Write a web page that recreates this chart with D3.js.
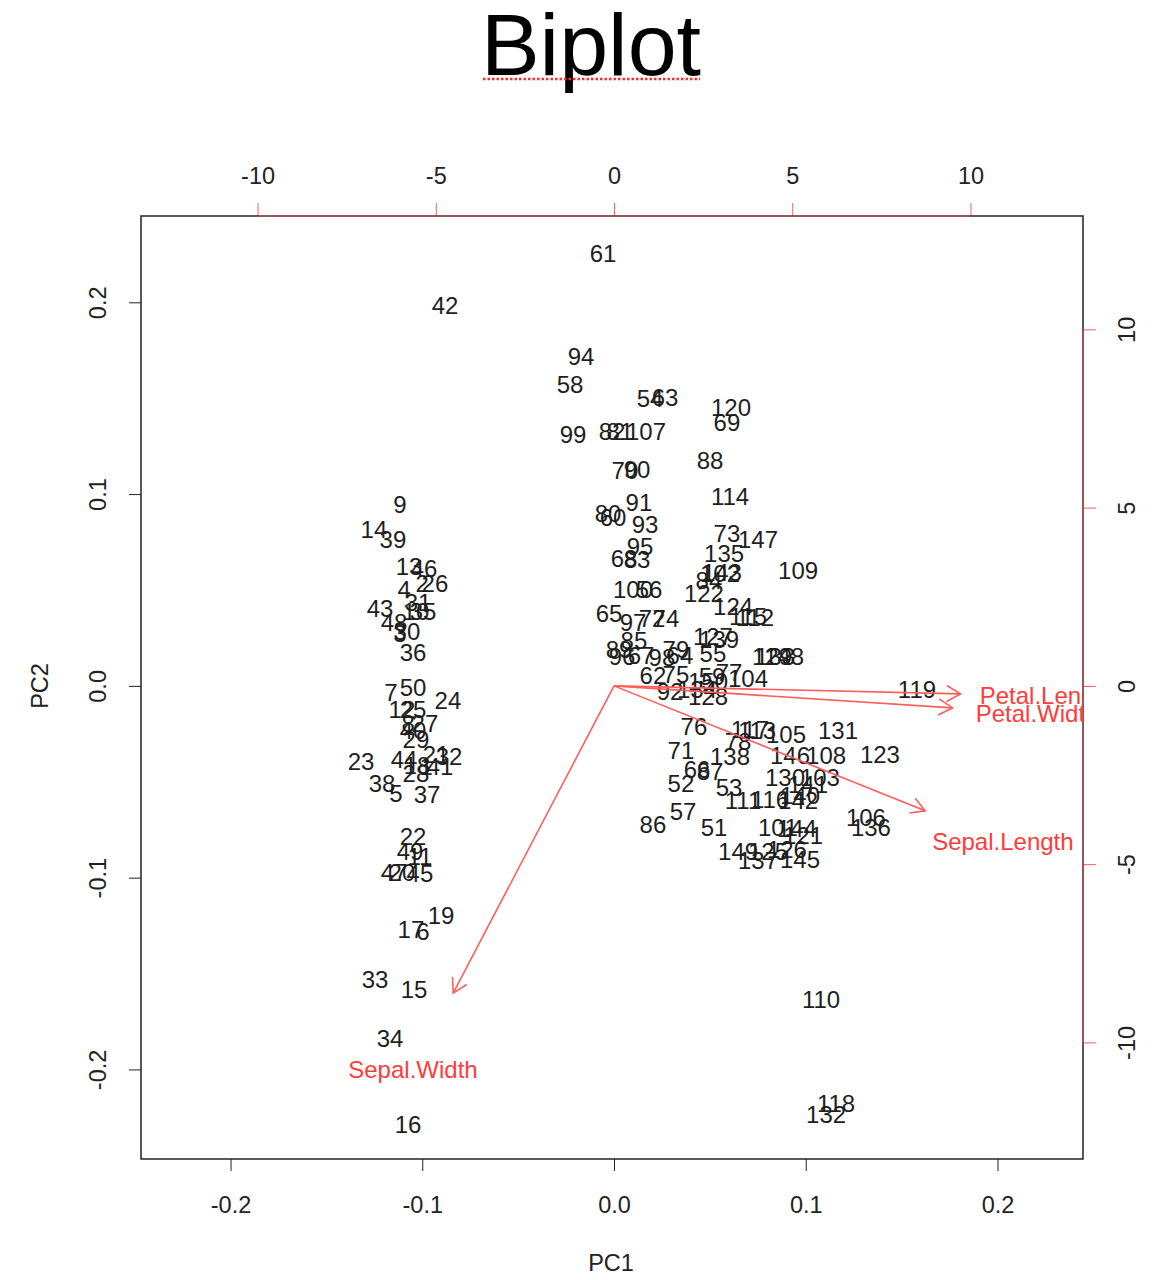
<!DOCTYPE html>
<html>
<head>
<meta charset="utf-8">
<script src="https://cdn.jsdelivr.net/npm/d3@7/dist/d3.min.js"></script>
<style>
  body { margin: 0; background: #fff; }
  text { font-family: "Liberation Sans", Arial, Helvetica, sans-serif; }
</style>
</head>
<body>
<script>
// PCA scores (first two components) for the 150 iris observations, rows 1..150
const pc1 = [
  -0.0980,-0.1001,-0.1116,-0.1095,-0.1137,-0.0996,-0.1163,-0.1074,-0.1116,-0.1033,
  -0.1012,-0.1106,-0.1069,-0.1252,-0.1043,-0.1074,-0.1059,-0.1027,-0.0902,-0.1106,
  -0.0928,-0.1048,-0.1319,-0.0866,-0.1048,-0.0934,-0.0986,-0.1033,-0.1033,-0.1080,
  -0.1022,-0.0860,-0.1246,-0.1168,-0.0996,-0.1048,-0.0975,-0.1210,-0.1153,-0.1048,
  -0.0907,-0.0881,-0.1220,-0.1095,-0.1012,-0.0991,-0.1147,-0.1147,-0.1064,-0.1048,
   0.0522, 0.0349, 0.0600, 0.0188, 0.0516, 0.0183, 0.0360,-0.0229, 0.0511,-0.0005,
  -0.0057, 0.0203, 0.0266, 0.0344,-0.0026, 0.0433, 0.0141, 0.0052, 0.0589, 0.0057,
   0.0349, 0.0198, 0.0589, 0.0271, 0.0323, 0.0417, 0.0600, 0.0647, 0.0323,-0.0031,
   0.0031,-0.0010, 0.0120, 0.0495, 0.0104, 0.0203, 0.0501, 0.0501, 0.0026, 0.0120,
   0.0130, 0.0292, 0.0162,-0.0172, 0.0136, 0.0042, 0.0099, 0.0250,-0.0214, 0.0099,
   0.0855, 0.0553, 0.1074, 0.0699, 0.0897, 0.1314, 0.0167, 0.1106, 0.0960, 0.1080,
   0.0673, 0.0735, 0.0746, 0.0605, 0.0699, 0.0814, 0.0709, 0.1158, 0.1580, 0.0610,
   0.0986, 0.0469, 0.1387, 0.0621, 0.0803, 0.0902, 0.0516, 0.0490, 0.0824, 0.0892,
   0.1168, 0.1106, 0.0840, 0.0433, 0.0574, 0.1340, 0.0751, 0.0605, 0.0548, 0.0970,
   0.1012, 0.0960, 0.0563, 0.0954, 0.0970, 0.0918, 0.0751, 0.0887, 0.0647, 0.0490
];
const pc2 = [
  -0.0422, 0.0532, 0.0271, 0.0501,-0.0563,-0.1283,-0.0037,-0.0198, 0.0944, 0.0386,
  -0.0892,-0.0125, 0.0621, 0.0814,-0.1585,-0.2289,-0.1272,-0.0417,-0.1200,-0.0975,
  -0.0360,-0.0787,-0.0396,-0.0078,-0.0125, 0.0532,-0.0198,-0.0459,-0.0282, 0.0282,
   0.0433,-0.0370,-0.1533,-0.1841, 0.0386, 0.0172,-0.0568,-0.0511, 0.0761,-0.0235,
  -0.0422, 0.1982, 0.0402,-0.0386,-0.0980, 0.0610,-0.0975, 0.0329,-0.0866,-0.0010,
  -0.0741,-0.0511,-0.0532, 0.1497, 0.0167, 0.0501,-0.0657, 0.1570, 0.0047, 0.0876,
   0.2253, 0.0052, 0.1502, 0.0156, 0.0375,-0.0438, 0.0156, 0.0662, 0.1372, 0.1121,
  -0.0339, 0.0349, 0.0793, 0.0349, 0.0057,-0.0214, 0.0068,-0.0292, 0.0188, 0.0897,
   0.1325, 0.1325, 0.0657, 0.0548, 0.0235,-0.0725,-0.0448, 0.1173, 0.0188, 0.1126,
   0.0954,-0.0031, 0.0840, 0.1716, 0.0725, 0.0151, 0.0329, 0.0146, 0.1309, 0.0501,
  -0.0741, 0.0584,-0.0480, 0.0037,-0.0256,-0.0688, 0.1325,-0.0365, 0.0600,-0.1638,
  -0.0600, 0.0355,-0.0235, 0.0986, 0.0360,-0.0595,-0.0229,-0.2180,-0.0021, 0.1450,
  -0.0782, 0.0480,-0.0360, 0.0412,-0.0866,-0.0855, 0.0256,-0.0057, 0.0151,-0.0480,
  -0.0235,-0.2237, 0.0151,-0.0021, 0.0688,-0.0741,-0.0913,-0.0370, 0.0240,-0.0574,
  -0.0516,-0.0600, 0.0589,-0.0746,-0.0907,-0.0365, 0.0761, 0.0151,-0.0866, 0.0021
];
const obsLabels = pc1.map((_, i) => String(i + 1));

// Variable loadings (label positions, in the top/right axis units)
const varNames = ["Sepal.Length", "Sepal.Width", "Petal.Length", "Petal.Width"];
const load1 = [10.91, -5.64, 12.15, 11.87];
const load2 = [-4.38, -10.77, -0.28, -0.77];

// Tick values
const xTicks = [-0.2, -0.1, 0.0, 0.1, 0.2];
const yTicks = [-0.2, -0.1, 0.0, 0.1, 0.2];
const x2Ticks = [-10, -5, 0, 5, 10];
const y2Ticks = [-10, -5, 0, 5, 10];

const W = 1161, H = 1280;
const plot = { left: 141, right: 1083, top: 216, bottom: 1159 };
const ratio = 53.79;           // loading units per score unit
const redLine = "#ff5c5c";
const redText = "#ff3b3b";
const axisFont = 23.5, markFont = 24;

const svg = d3.select("body").append("svg").attr("width", W).attr("height", H);

const x = d3.scaleLinear().domain([-0.2467, 0.2446]).range([plot.left, plot.right]);
const y = d3.scaleLinear().domain([-0.2467, 0.2450]).range([plot.bottom, plot.top]);
const x2 = d3.scaleLinear().domain(x.domain().map(d => d * ratio)).range(x.range());
const y2 = d3.scaleLinear().domain(y.domain().map(d => d * ratio)).range(y.range());

// Title with dotted underline
svg.append("text").attr("x", 591).attr("y", 75).attr("text-anchor", "middle")
  .attr("font-size", 88).attr("fill", "#000").text("Biplot");
svg.append("line").attr("x1", 483).attr("x2", 700).attr("y1", 79).attr("y2", 79)
  .attr("stroke", "#ff2a2a").attr("stroke-width", 2.5).attr("stroke-dasharray", "2.5,2");

// Bottom axis (PC1)
const gB = svg.append("g").attr("transform", `translate(0,${plot.bottom})`)
  .call(d3.axisBottom(x).tickValues(xTicks).tickSize(12).tickFormat(d => d.toFixed(1)));
gB.select(".domain").remove();
gB.selectAll("line").attr("stroke", "#222");
gB.selectAll("text").attr("font-size", axisFont).attr("fill", "#222")
  .attr("y", 46).attr("dy", "0.35em");

// Left axis (PC2), labels parallel to the axis
const gL = svg.append("g").attr("transform", `translate(${plot.left},0)`)
  .call(d3.axisLeft(y).tickValues(yTicks).tickSize(12).tickFormat(d => d.toFixed(1)));
gL.select(".domain").remove();
gL.selectAll("line").attr("stroke", "#222");
gL.selectAll("text").attr("font-size", axisFont).attr("fill", "#222")
  .attr("transform", "rotate(-90)").attr("x", 0).attr("y", -43).attr("dy", "0.35em")
  .attr("text-anchor", "middle");

// Top axis (loadings, red ticks)
const gT = svg.append("g").attr("transform", `translate(0,${plot.top})`)
  .call(d3.axisTop(x2).tickValues(x2Ticks).tickSize(13).tickFormat(d => String(d)));
gT.select(".domain").remove();
gT.selectAll("line").attr("stroke", redLine);
gT.selectAll("text").attr("font-size", axisFont).attr("fill", "#222")
  .attr("y", -40).attr("dy", "0.35em");

// Right axis (loadings, red ticks)
const gR = svg.append("g").attr("transform", `translate(${plot.right},0)`)
  .call(d3.axisRight(y2).tickValues(y2Ticks).tickSize(13).tickFormat(d => String(d)));
gR.select(".domain").remove();
gR.selectAll("line").attr("stroke", redLine);
gR.selectAll("text").attr("font-size", axisFont).attr("fill", "#222")
  .attr("transform", "rotate(-90)").attr("x", 0).attr("y", 44).attr("dy", "0.35em")
  .attr("text-anchor", "middle");

// Axis titles
svg.append("text").attr("x", 611).attr("y", 1263).attr("dy", "0.35em")
  .attr("text-anchor", "middle").attr("font-size", axisFont).attr("fill", "#222").text("PC1");
svg.append("text").attr("transform", "translate(40,686) rotate(-90)").attr("dy", "0.35em")
  .attr("text-anchor", "middle").attr("font-size", axisFont).attr("fill", "#222").text("PC2");

// Plot frame
svg.append("rect").attr("x", plot.left).attr("y", plot.top)
  .attr("width", plot.right - plot.left).attr("height", plot.bottom - plot.top)
  .attr("fill", "none").attr("stroke", "#222").attr("stroke-width", 1.5);
// red axis lines over the frame between extreme ticks
svg.append("line").attr("x1", x2(-10)).attr("x2", x2(10)).attr("y1", plot.top).attr("y2", plot.top)
  .attr("stroke", redLine).attr("stroke-opacity", 0.45).attr("stroke-width", 1.5);
svg.append("line").attr("x1", plot.right).attr("x2", plot.right).attr("y1", y2(10)).attr("y2", y2(-10))
  .attr("stroke", redLine).attr("stroke-opacity", 0.45).attr("stroke-width", 1.5);

svg.append("clipPath").attr("id", "plotClip").append("rect")
  .attr("x", plot.left).attr("y", plot.top)
  .attr("width", plot.right - plot.left).attr("height", plot.bottom - plot.top);
const inner = svg.append("g").attr("clip-path", "url(#plotClip)");

// Observation labels
inner.append("g").selectAll("text").data(obsLabels).join("text")
  .attr("x", (d, i) => x(pc1[i])).attr("y", (d, i) => y(pc2[i]))
  .attr("dy", "0.35em").attr("text-anchor", "middle")
  .attr("font-size", markFont).attr("fill", "#1e1e1e").text(d => d);

// Variable arrows (drawn to 80% of the label position) with open heads
const arrows = inner.append("g");
const headLen = 16, headAng = Math.PI / 6;
varNames.forEach((name, i) => {
  const x0 = x2(0), y0 = y2(0);
  const x1 = x2(load1[i] * 0.8), y1 = y2(load2[i] * 0.8);
  arrows.append("line").attr("x1", x0).attr("y1", y0).attr("x2", x1).attr("y2", y1)
    .attr("stroke", redLine).attr("stroke-width", 1.6);
  const a = Math.atan2(y1 - y0, x1 - x0);
  const p = d3.path();
  p.moveTo(x1 - headLen * Math.cos(a - headAng), y1 - headLen * Math.sin(a - headAng));
  p.lineTo(x1, y1);
  p.lineTo(x1 - headLen * Math.cos(a + headAng), y1 - headLen * Math.sin(a + headAng));
  arrows.append("path").attr("d", p.toString()).attr("fill", "none")
    .attr("stroke", redLine).attr("stroke-width", 1.6);
  arrows.append("text").attr("x", x2(load1[i])).attr("y", y2(load2[i]))
    .attr("dy", "0.35em").attr("text-anchor", "middle")
    .attr("font-size", markFont).attr("fill", redText).text(name);
});
</script>
</body>
</html>
